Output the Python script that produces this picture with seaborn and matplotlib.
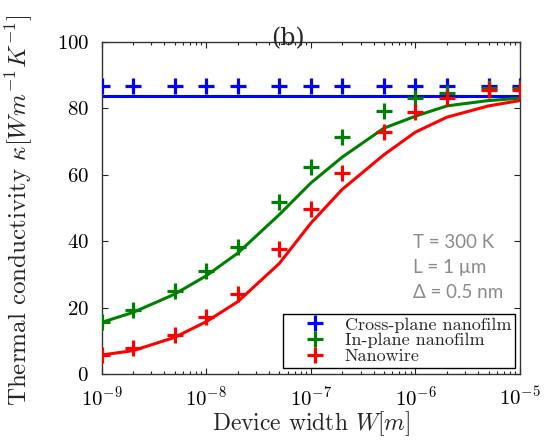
import numpy as np
import pandas as pd
import matplotlib
matplotlib.use("Agg")
import matplotlib.pyplot as plt
import seaborn as sns

# ---- data ----
widths = [1e-9, 2e-9, 5e-9, 1e-8, 2e-8, 5e-8, 1e-7, 2e-7, 5e-7, 1e-6, 2e-6, 5e-6, 1e-5]

cross_pts = [86.7] * 13
inplane_pts = [15.6, 19.3, 25.1, 31.1, 38.4, 51.9, 62.4, 71.3, 79.1, 83.0, 84.5, 86.2, 86.2]
wire_pts = [5.8, 7.8, 11.8, 17.1, 24.0, 37.6, 49.7, 60.4, 72.8, 79.0, 83.0, 85.4, 85.5]

cross_fit = [83.7] * 13
inplane_fit = [15.6, 18.6, 24.1, 29.6, 36.4, 48.0, 57.5, 65.3, 74.0, 77.6, 80.7, 82.3, 83.0]
wire_fit = [5.8, 7.1, 11.1, 15.8, 21.8, 33.3, 45.4, 55.6, 66.0, 72.8, 77.3, 80.7, 82.3]

labels = ["Cross-plane nanofilm", "In-plane nanofilm", "Nanowire"]
colors = ["#0000ff", "#008000", "#ff0000"]
annot_lines = ["T = 300 K", "L = 1 µm", "Δ = 0.5 nm"]

# ---- style ----
sns.set_style("ticks")
plt.rcParams["font.family"] = "serif"
plt.rcParams["font.serif"] = ["cmr10", "DejaVu Serif"]
plt.rcParams["mathtext.fontset"] = "cm"
plt.rcParams["axes.formatter.use_mathtext"] = True
plt.rcParams["axes.unicode_minus"] = False

W, H = 544, 440
fig = plt.figure(figsize=(W / 100, H / 100), dpi=100)
l, r, t, b = 101.5, 520, 41.7, 374.3
ax = fig.add_axes([l / W, 1 - b / H, (r - l) / W, (b - t) / H])

pts = [cross_pts, inplane_pts, wire_pts]
fits = [cross_fit, inplane_fit, wire_fit]

for c, f in zip(colors, fits):
    df = pd.DataFrame({"w": widths, "k": f})
    sns.lineplot(data=df, x="w", y="k", color=c, lw=2.2, ax=ax, zorder=2)
for lab, c, p in zip(labels, colors, pts):
    df = pd.DataFrame({"w": widths, "k": p})
    sns.lineplot(data=df, x="w", y="k", color=c, ax=ax, linestyle="",
                 marker="+", markersize=12, markeredgewidth=2.3,
                 markeredgecolor=c, zorder=3, label=lab)

ax.set_xscale("log")
ax.set_xlim(1e-9, 1e-5)
ax.set_ylim(0, 100)
ax.set_xticks([1e-9, 1e-8, 1e-7, 1e-6, 1e-5])
ax.set_yticks([0, 20, 40, 60, 80, 100])
ax.tick_params(axis="both", which="both", direction="in", top=True, right=True,
               labelsize=15, colors="#222222", labelcolor="black")
ax.tick_params(axis="both", which="major", length=4, width=0.8)
ax.tick_params(axis="both", which="minor", length=2, width=0.8)
ax.tick_params(axis="x", which="major", pad=8)
ax.tick_params(axis="y", which="major", pad=9)
for s in ax.spines.values():
    s.set_linewidth(1.0)
    s.set_color("#333333")

ax.set_xlabel(r"Device width $W[m]$", fontsize=17)
ax.xaxis.set_label_coords(0.5, -(424 - b) / (b - t), transform=ax.transAxes)
ax.xaxis.label.set_va("center")
ax.set_ylabel(r"Thermal conductivity $\kappa[Wm^{-1}K^{-1}]$", fontsize=18)
ax.yaxis.set_label_coords(-(l - 19) / (r - l), 0.5 - ((210 - (t + b) / 2) / (b - t)))
ax.yaxis.label.set_va("center")

fig.text(288 / W, 1 - 39 / H, "(b)", fontsize=17, family="DejaVu Serif",
         ha="center", va="center")

for i, s in enumerate(annot_lines):
    fig.text(413 / W, 1 - (242 + 25 * i) / H, s, fontsize=13.5, family="Lato",
             color="#8a8a8a", ha="left", va="center")

h, lb = ax.get_legend_handles_labels()
leg = ax.legend(h, lb, loc="lower right", bbox_to_anchor=(0.988, 0.02),
                borderaxespad=0, fancybox=False, framealpha=1, edgecolor="black",
                fontsize=13, numpoints=1, handlelength=3.1, handletextpad=0.1,
                labelspacing=0.0, borderpad=0.2)
leg.get_frame().set_linewidth(1.0)

fig.savefig("out.png", dpi=100)
